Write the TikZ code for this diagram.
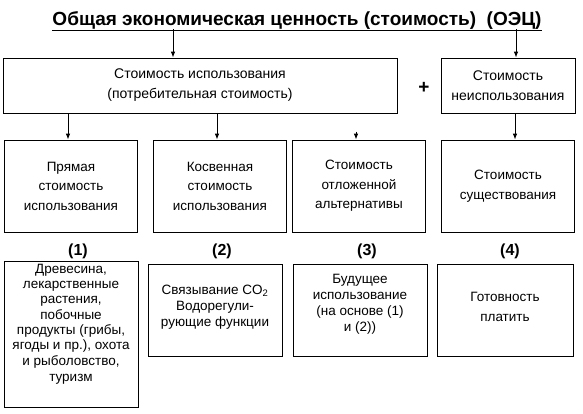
\documentclass[tikz,border=0pt]{standalone}
\usepackage{fontspec}
\setmainfont{Liberation Sans}
\usetikzlibrary{arrows.meta}
\tikzset{
  >={Latex[length=6,width=4.5]},
  box/.style={draw,line width=0.8pt,align=center,inner sep=2,
              font=\fontsize{13.5}{19.5}\selectfont},
  box top/.style={box,minimum height=55,font=\fontsize{14}{20}\selectfont},
  box mid/.style={box,minimum width=133,minimum height=92},
  box low/.style={box,minimum width=134,minimum height=92,
                  font=\fontsize{13.5}{16}\selectfont},
  num/.style={font=\bfseries\fontsize{16}{16}\selectfont},
  connect/.style={->,line width=0.8pt}
}
\begin{document}
\begin{tikzpicture}[x=1pt,y=-1pt]
  \useasboundingbox (0,0) rectangle (583,413);
  % Title
  \node[anchor=base,font=\bfseries\fontsize{19}{19}\selectfont] (title) at (297,25)
    {\underline{Общая экономическая ценность (стоимость)\ \ (ОЭЦ)}};
  \coordinate (split1) at (173,29);
  \coordinate (split2) at (516,29);
  % Top row
  \node[box top,minimum width=394] (usebox) at (200,85.5)
    {Стоимость использования\\(потребительная стоимость)};
  \node[box top,minimum width=134] (nonuse) at (508,85.5)
    {Стоимость\\неиспользования};
  \node[font=\bfseries\fontsize{19}{19}\selectfont] (plus) at (424,88) {+};
  \draw[connect] (split1) -- (split1 |- usebox.north);
  \draw[connect] (split2) -- (split2 |- nonuse.north);
  % Middle row
  \node[box mid] (direct) at (71,186) {Прямая\\стоимость\\использования};
  \node[box mid] (indirect) at (220,186) {Косвенная\\стоимость\\использования};
  \node[box mid] (option) at (359,186) {Стоимость\\отложенной\\альтернативы};
  \node[box mid] (exist) at (508,186) {Стоимость\\существования};
  \draw[connect] ([xshift=-3]direct.north |- usebox.south) -- ([xshift=-3]direct.north);
  \draw[connect] ([xshift=-3]indirect.north |- usebox.south) -- ([xshift=-3]indirect.north);
  \draw[connect] ([xshift=-3,yshift=8]option.north) -- ([xshift=-3]option.north);
  \draw[connect] ([xshift=7]nonuse.south) -- ([xshift=7]nonuse.south |- exist.north);
  % Numbers
  \foreach \n/\x in {1/78,2/222,3/367,4/510}{%
    \node[num] (n\n) at (\x,251) {(\n)};
  }
  % Bottom row
  \node[box,minimum width=134,minimum height=146] (wood) at (71,334)
    {\parbox[c][140pt][t]{130pt}{\centering\fontsize{13.5}{15.3}\selectfont
     Древесина,\\лекарственные\\растения,\\побочные\\продукты (грибы,\\ягоды и пр.), охота\\и рыболовство,\\[1.5pt]туризм}};
  \node[box low] (carbon) at (215,310) {Связывание CO\textsubscript{2}\\Водорегули-\\рующие функции\\[-8pt]};
  \node[box low] (future) at (360,310) {Будущее\\использование\\(на основе (1)\\и (2))\\[-1pt]};
  \node[box low,minimum width=136] (pay) at (505,310) {Готовность\\[4pt]платить\\[-10pt]};
\end{tikzpicture}
\end{document}
